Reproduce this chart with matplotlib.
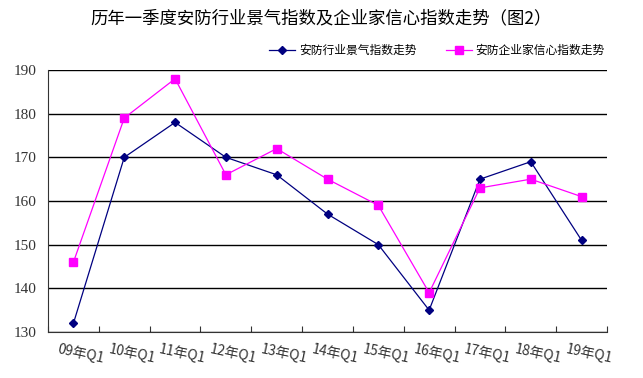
import matplotlib.pyplot as plt
import numpy as np

plt.rcParams['font.family'] = ['Liberation Serif', 'Noto Sans CJK SC']

quarters = ['09年Q1', '10年Q1', '11年Q1', '12年Q1', '13年Q1', '14年Q1',
            '15年Q1', '16年Q1', '17年Q1', '18年Q1', '19年Q1']
jingqi = [132, 170, 178, 170, 166, 157, 150, 135, 165, 169, 151]
xinxin = [146, 179, 188, 166, 172, 165, 159, 139, 163, 165, 161]

fig = plt.figure(figsize=(6.43, 3.78), dpi=100)
ax = fig.add_axes([0.0747, 0.1217, 0.8693, 0.6931])

x = np.arange(len(quarters))
ax.plot(x, jingqi, color='#000080', marker='D', markersize=4, lw=0.9,
        label='安防行业景气指数走势')
ax.plot(x, xinxin, color='#FF00FF', marker='s', markersize=6, lw=0.9,
        label='安防企业家信心指数走势')

ax.set_xlim(-0.5, len(quarters) - 0.5)
ax.set_ylim(130, 190)
ax.set_yticks(range(130, 191, 10))
ax.yaxis.grid(True, color='black', lw=1)
ax.set_axisbelow(True)
for s in ['top', 'right']:
    ax.spines[s].set_visible(False)
ax.spines['left'].set_color('#333333')
ax.spines['bottom'].set_color('#333333')

ax.set_xticks(np.arange(len(quarters) + 1) - 0.5)
ax.set_xticklabels([])
ax.tick_params(axis='x', direction='in', length=4, color='#333333')
ax.tick_params(axis='y', length=0, labelsize=11, labelcolor='#333333', pad=8)
for i, q in enumerate(quarters):
    ax.text(i + 0.15, 127.6, q, rotation=-12, ha='center', va='top', fontsize=10,
            color='#333333', style='italic', family=['Noto Sans CJK SC'])

fig.text(0.5, 0.952, '历年一季度安防行业景气指数及企业家信心指数走势（图2）',
         ha='center', va='center', fontsize=12.5, fontweight='medium',
         family=['Noto Sans CJK SC'])
leg = ax.legend(loc='lower right', bbox_to_anchor=(1.015, 1.01), ncol=2, frameon=False,
                prop={'family': 'Noto Sans CJK SC', 'size': 8.5}, handlelength=2.2,
                columnspacing=2.5, handletextpad=0.3)

fig.savefig('out.png')
